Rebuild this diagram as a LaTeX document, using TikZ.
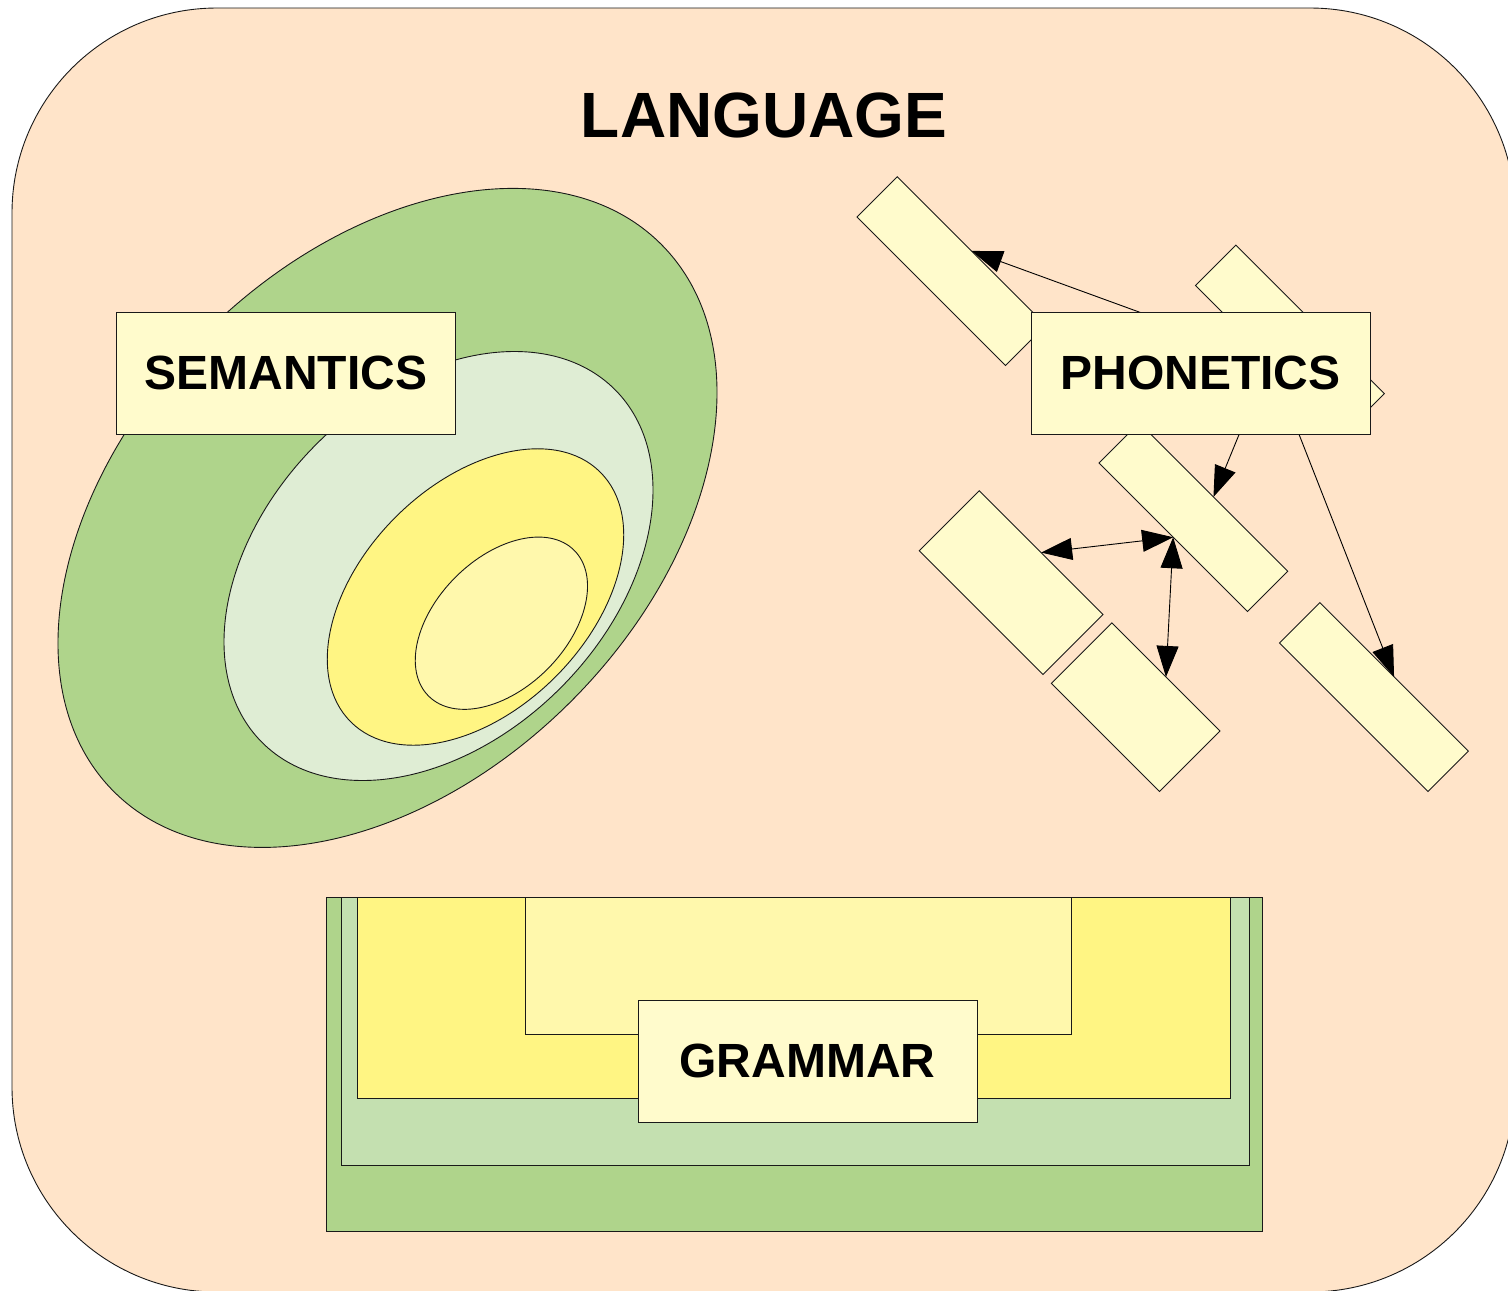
\documentclass[tikz,border=0pt]{standalone}
\usepackage{fontspec}
\setmainfont{Liberation Sans}
\usetikzlibrary{shapes.geometric,arrows.meta}
\definecolor{bgpeach}{HTML}{FFE4C9}
\definecolor{dkgreen}{HTML}{AFD48B}
\definecolor{ltgreen}{HTML}{DFEDD4}
\definecolor{midgreen}{HTML}{C4E0B0}
\definecolor{ylw}{HTML}{FFF583}
\definecolor{paleylw}{HTML}{FFF8AC}
\definecolor{boxfill}{HTML}{FFFBCC}
\tikzset{
  outl/.style={draw=black!90, line width=0.9pt},
  lbl/.style={outl, fill=boxfill, minimum width=339pt, minimum height=122pt, inner sep=0pt,
    font=\fontsize{48}{58}\selectfont\bfseries},
  pbar/.style={outl, fill=boxfill, inner sep=0pt, outer sep=0pt, rotate=-45},
  semell/.style={outl, ellipse, inner sep=0pt, outer sep=0pt, rotate=45},
  link/.style={draw=black, line width=0.9pt, -{Triangle[length=31pt,width=22pt]}},
  dlink/.style={draw=black, line width=0.9pt, {Triangle[length=31pt,width=22pt]}-{Triangle[length=31pt,width=22pt]}},
}
\begin{document}
\begin{tikzpicture}[x=1pt,y=-1pt]
\useasboundingbox (0,0) rectangle (1508,1291);
\fill[white] (0,0) rectangle (1508,1291);
\clip (0,0) rectangle (1508,1291);
% outer frame
\path[outl, fill=bgpeach, rounded corners=205pt] (12,8) rectangle (1515,1292);
\node[font=\fontsize{64}{76}\selectfont\bfseries, inner sep=0pt] (lang) at (764,115.5) {LANGUAGE};

% semantics
\node[semell, fill=dkgreen, minimum width=774pt, minimum height=519pt] (e1) at (387.5,517.9) {};
\node[semell, fill=ltgreen, minimum width=499pt, minimum height=345pt] (e2) at (438.5,566) {};
\node[semell, fill=ylw, minimum width=353pt, minimum height=226pt] (e3) at (475.5,597) {};
\node[semell, fill=paleylw, minimum width=206pt, minimum height=130pt] (e4) at (501.4,623.2) {};
\node[lbl] (sem) at (286,373) {SEMANTICS};

% phonetics
\node[pbar, minimum width=210pt, minimum height=57pt] (r1) at (951.4,271.1) {};
\node[pbar, minimum width=210pt, minimum height=57pt] (r2) at (1289.9,339.5) {};
\node[pbar, minimum width=210pt, minimum height=57pt] (r3) at (1193.3,517.1) {};
\node[pbar, minimum width=175pt, minimum height=85pt] (r4) at (1011.1,582.6) {};
\node[pbar, minimum width=153pt, minimum height=85.6pt] (r5) at (1135.7,707.2) {};
\node[pbar, minimum width=210pt, minimum height=57pt] (r6) at (1373.9,697) {};
\draw[link] (r2.south) -- (r1.north);
\draw[link] (r2.south) -- (r3.north);
\draw[link] (r2.south) -- (r6.north);
\draw[dlink] (r4.north) -- (r3.south);
\draw[dlink] (r3.south) -- (r5.north);
\node[lbl] (pho) at (1200.5,373) {PHONETICS};

% grammar
\path[outl, fill=dkgreen] (326,897) rectangle (1262,1231);
\path[outl, fill=midgreen] (341,897) rectangle (1249,1165);
\path[outl, fill=ylw] (357,897) rectangle (1230.5,1098);
\path[outl, fill=paleylw] (525,897) rectangle (1071,1034);
\node[lbl] (gram) at (807.5,1061) {GRAMMAR};
\end{tikzpicture}
\end{document}
